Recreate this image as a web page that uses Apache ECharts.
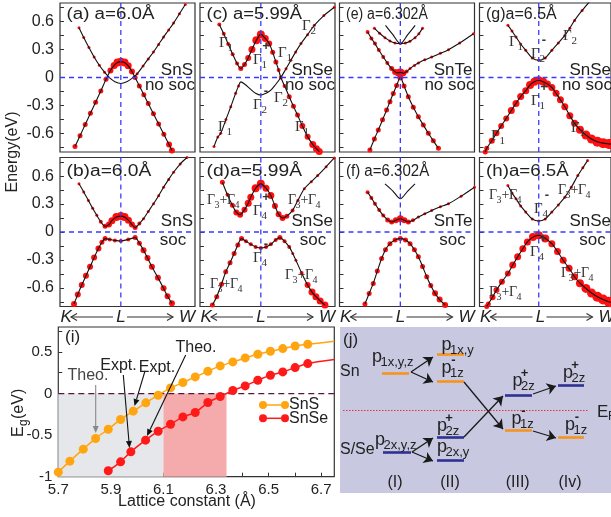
<!DOCTYPE html>
<html><head><meta charset="utf-8">
<script src="https://cdn.jsdelivr.net/npm/echarts@6/dist/echarts.min.js"></script>
<style>html,body{margin:0;padding:0;background:#fff}#c{width:611px;height:517px}</style>
</head><body><div id="c"></div>
<script>
// ================= DATA =================
// band panels: k axis (K=-0.82, L=0, W=1), energy axis (eV)
const kRange = [-0.82, 1.0];
const eRange = [-0.8, 0.8];
const eTicks = [-0.75,-0.6,-0.45,-0.3,-0.15,0,0.15,0.3,0.45,0.6,0.75];
const eTickLabels = [-0.6,-0.3,0,0.3,0.6];
const kLabels = ['K','L','W'];
const panelTitles = ['(a) a=6.0Å','(b)a=6.0Å','(c) a=5.99Å','(d)a=5.99Å','(e) a=6.302Å','(f) a=6.302Å','(g)a=6.5Å','(h)a=6.5Å'];
const panelMaterials = ['SnS','SnS','SnSe','SnSe','SnTe','SnTe','SnSe','SnSe'];
const panelSoc = ['no soc','soc','no soc','soc','no soc','soc','no soc','soc'];

// each point: [k, E, red-dot size]
const aBand1 = [[-0.618,-0.742,5],[-0.55,-0.625,5],[-0.48,-0.505,5],[-0.41,-0.385,5],[-0.34,-0.265,5],[-0.27,-0.145,5],[-0.2,-0.02,5],[-0.14,0.075,6],[-0.09,0.13,7],[-0.045,0.16,8],[0,0.17,8],[0.05,0.16,8],[0.1,0.125,7],[0.15,0.065,6],[0.193,0.0,5],[0.25,-0.09,5],[0.31,-0.185,5],[0.37,-0.28,5],[0.44,-0.39,5],[0.51,-0.5,5],[0.58,-0.61,5],[0.65,-0.72,6],[0.689,-0.785,6]];
const aBand2 = [[-0.564,0.535,3],[-0.5,0.43,3],[-0.43,0.322,3],[-0.36,0.22,3],[-0.29,0.131,3],[-0.22,0.057,3],[-0.15,-0.005,0],[-0.08,-0.045,0],[0,-0.064,0],[0.08,-0.045,0],[0.15,-0.01,0],[0.22,0.04,3],[0.3,0.124,3],[0.37,0.2,3],[0.44,0.274,3],[0.51,0.355,3],[0.576,0.434,3],[0.645,0.51,3],[0.711,0.584,3],[0.79,0.684,3],[0.869,0.784,3]];
const bBand1 = [[-0.564,0.518,3],[-0.5,0.43,3],[-0.437,0.339,3],[-0.38,0.255,3],[-0.324,0.179,3],[-0.27,0.11,4],[-0.212,0.061,5],[-0.16,0.08,6],[-0.12,0.122,7],[-0.06,0.16,8],[0,0.171,8],[0.05,0.16,8],[0.103,0.125,7],[0.15,0.08,6],[0.193,0.047,5],[0.25,0.09,4],[0.306,0.143,3],[0.37,0.22,3],[0.441,0.304,3],[0.51,0.39,3],[0.576,0.48,3],[0.645,0.565,3],[0.711,0.642,3],[0.8,0.73,3],[0.892,0.8,3]];
const bBand2 = [[-0.631,-0.773,6],[-0.58,-0.67,6],[-0.527,-0.57,6],[-0.47,-0.47,6],[-0.415,-0.374,6],[-0.36,-0.275,6],[-0.302,-0.178,6],[-0.255,-0.11,5],[-0.212,-0.071,5],[-0.15,-0.08,4],[-0.08,-0.09,4],[0,-0.096,4],[0.1,-0.08,4],[0.193,-0.06,5],[0.25,-0.12,5],[0.306,-0.196,6],[0.36,-0.28,6],[0.419,-0.374,6],[0.5,-0.49,6],[0.576,-0.605,6],[0.63,-0.69,6],[0.689,-0.766,6]];
const cBand1 = [[-0.56,0.57,4],[-0.5,0.47,4],[-0.44,0.36,4],[-0.38,0.25,4],[-0.32,0.15,4],[-0.27,0.096,5],[-0.22,0.14,5],[-0.17,0.21,6],[-0.12,0.3,7],[-0.06,0.4,8],[0,0.463,8],[0.06,0.42,7],[0.113,0.364,6],[0.16,0.27,5],[0.203,0.167,5],[0.24,0.08,4],[0.27,0,4],[0.32,-0.09,4],[0.383,-0.207,5],[0.44,-0.31,5],[0.495,-0.403,5],[0.56,-0.52,6],[0.631,-0.635,6],[0.7,-0.72,7],[0.75,-0.765,7],[0.788,-0.795,7]];
const cBand2 = [[-0.631,-0.742,3],[-0.58,-0.64,3],[-0.541,-0.599,3],[-0.47,-0.45,3],[-0.405,-0.314,3],[-0.34,-0.17,3],[-0.3,-0.09,3],[-0.27,-0.047,0],[-0.22,-0.07,0],[-0.135,-0.128,0],[-0.07,-0.17,0],[0,-0.189,0],[0.07,-0.17,0],[0.135,-0.136,0],[0.2,-0.075,0],[0.27,0,0],[0.34,0.095,3],[0.405,0.185,3],[0.47,0.275,3],[0.541,0.364,3],[0.63,0.46,3],[0.721,0.56,3],[0.85,0.665,3],[0.991,0.755,3]];
const dBand1 = [[-0.518,0.535,5],[-0.45,0.4,4],[-0.383,0.286,5],[-0.33,0.21,6],[-0.279,0.186,6],[-0.22,0.24,6],[-0.17,0.31,7],[-0.135,0.374,7],[-0.07,0.47,8],[0,0.517,8],[0.07,0.47,7],[0.135,0.392,7],[0.19,0.28,6],[0.24,0.19,6],[0.293,0.15,6],[0.35,0.17,5],[0.428,0.232,4],[0.5,0.34,3],[0.586,0.464,3],[0.68,0.54,3],[0.766,0.606,3],[0.88,0.7,3],[0.99,0.795,3]];
const dBand2 = [[-0.653,-0.784,5],[-0.595,-0.695,5],[-0.53,-0.56,5],[-0.473,-0.428,5],[-0.415,-0.33,5],[-0.36,-0.231,5],[-0.31,-0.14,5],[-0.26,-0.071,5],[-0.2,-0.1,4],[-0.135,-0.132,4],[-0.07,-0.16,4],[0,-0.171,4],[0.07,-0.16,4],[0.135,-0.132,4],[0.2,-0.085,4],[0.257,-0.06,5],[0.32,-0.1,4],[0.383,-0.16,4],[0.43,-0.23,3],[0.473,-0.303,3],[0.55,-0.44,4],[0.631,-0.57,6],[0.69,-0.645,7],[0.743,-0.695,7],[0.8,-0.74,7],[0.865,-0.784,7]];
const eBand1 = [[-0.441,0.488,4],[-0.39,0.42,4],[-0.342,0.364,4],[-0.29,0.295,4],[-0.23,0.22,4],[-0.175,0.155,4],[-0.117,0.096,5],[-0.07,0.06,6],[-0.03,0.05,7],[0,0.055,8],[0.04,0.045,6],[0.085,0.065,4],[0.131,0.096,3],[0.19,0.13,3],[0.243,0.156,3],[0.33,0.19,3],[0.423,0.22,3],[0.54,0.26,3],[0.649,0.299,3],[0.8,0.37,3],[0.986,0.47,3]];
const eBand2 = [[-0.41,-0.778,5],[-0.35,-0.66,5],[-0.297,-0.564,5],[-0.24,-0.455,5],[-0.185,-0.35,5],[-0.14,-0.26,5],[-0.095,-0.171,5],[-0.05,-0.085,5],[0,0,6],[0.05,-0.09,5],[0.108,-0.207,5],[0.175,-0.32,5],[0.243,-0.421,5],[0.31,-0.51,5],[0.378,-0.599,5],[0.445,-0.68,5],[0.514,-0.76,5]];
const eBand3 = [[-0.35,0.53,3],[-0.28,0.475,3],[-0.207,0.428,3],[-0.14,0.392,3],[-0.072,0.37,3],[0,0.364,3],[0.067,0.37,3],[0.13,0.39,3],[0.198,0.428,3],[0.25,0.47,3],[0.3,0.53,3]];
const eBand4 = [[-0.2,0.56,0],[-0.1,0.46,0],[0,0.364,0],[0.1,0.46,0],[0.2,0.56,0]];
const fBand1 = [[-0.441,0.428,4],[-0.39,0.365,4],[-0.342,0.303,4],[-0.285,0.235,4],[-0.23,0.178,4],[-0.17,0.13,5],[-0.117,0.107,5],[-0.06,0.125,6],[0,0.143,7],[0.055,0.125,6],[0.108,0.107,5],[0.17,0.125,4],[0.243,0.16,3],[0.33,0.196,3],[0.423,0.232,3],[0.54,0.27,3],[0.649,0.303,3],[0.82,0.385,3],[1.0,0.481,3]];
const fBand2 = [[-0.207,0.517,0],[-0.1,0.44,0],[0,0.357,0],[0.1,0.44,0],[0.198,0.517,0]];
const fBand3 = [[-0.477,-0.773,5],[-0.42,-0.66,5],[-0.365,-0.552,5],[-0.31,-0.42,5],[-0.252,-0.285,5],[-0.2,-0.19,5],[-0.14,-0.125,5],[-0.07,-0.085,5],[0,-0.071,5],[0.07,-0.085,5],[0.131,-0.125,5],[0.19,-0.19,5],[0.243,-0.267,5],[0.3,-0.37,5],[0.356,-0.481,5],[0.41,-0.575,5],[0.468,-0.659,6],[0.53,-0.725,6],[0.604,-0.784,6]];
const gBand1 = [[-0.427,0.56,3],[-0.37,0.5,3],[-0.315,0.434,3],[-0.25,0.36,3],[-0.18,0.292,3],[-0.09,0.21,3],[0,0.185,3],[0.09,0.21,3],[0.181,0.292,3],[0.27,0.37,3],[0.361,0.452,3],[0.43,0.53,3],[0.496,0.613,3],[0.6,0.72,3],[0.699,0.81,3]];
const gBand2 = [[-0.74,-0.8,5],[-0.72,-0.76,5],[-0.65,-0.68,6],[-0.585,-0.599,6],[-0.52,-0.52,6],[-0.45,-0.439,6],[-0.38,-0.355,7],[-0.315,-0.278,7],[-0.25,-0.205,7],[-0.18,-0.143,7],[-0.12,-0.08,8],[-0.06,-0.045,8],[0,-0.029,8],[0.06,-0.045,8],[0.12,-0.07,7],[0.181,-0.107,7],[0.24,-0.17,7],[0.3,-0.24,7],[0.361,-0.314,7],[0.43,-0.41,7],[0.496,-0.492,7],[0.57,-0.56,8],[0.653,-0.617,9],[0.73,-0.66,9],[0.811,-0.689,10],[0.89,-0.705,10],[0.969,-0.713,10],[1.0,-0.715,10]];
const hBand1 = [[-0.427,0.5,3],[-0.37,0.42,3],[-0.315,0.357,3],[-0.25,0.28,3],[-0.18,0.214,3],[-0.09,0.14,3],[0,0.118,3],[0.09,0.14,3],[0.181,0.214,3],[0.27,0.29,3],[0.361,0.374,3],[0.45,0.48,3],[0.541,0.606,3],[0.61,0.69,3],[0.676,0.767,3]];
const hBand2 = [[-0.72,-0.8,5],[-0.698,-0.773,5],[-0.64,-0.7,6],[-0.585,-0.624,6],[-0.51,-0.535,6],[-0.427,-0.445,6],[-0.36,-0.355,7],[-0.292,-0.267,7],[-0.22,-0.18,7],[-0.157,-0.107,7],[-0.08,-0.055,8],[0,-0.035,8],[0.09,-0.07,8],[0.181,-0.125,7],[0.26,-0.21,7],[0.338,-0.303,7],[0.42,-0.39,7],[0.496,-0.481,7],[0.57,-0.55,8],[0.653,-0.606,9],[0.73,-0.655,9],[0.811,-0.695,10],[0.89,-0.725,10],[0.969,-0.749,10],[1.0,-0.755,10]];

// panel (i): band gap vs lattice constant
const latticeSnS = [5.70,5.744,5.795,5.842,5.89,5.937,5.985,6.033,6.08,6.127,6.174,6.221,6.269,6.316,6.364,6.411,6.459,6.507,6.554,6.601,6.649];
const gapSnS     = [-0.945,-0.813,-0.669,-0.54,-0.429,-0.312,-0.212,-0.112,-0.02,0.068,0.132,0.2,0.268,0.332,0.38,0.428,0.472,0.508,0.54,0.572,0.592];
const tailSnS    = [6.75, 0.628];
const latticeSnSe = [5.89,5.937,5.976,6.032,6.08,6.127,6.174,6.221,6.269,6.316,6.364,6.411,6.459,6.507,6.554,6.601,6.649];
const gapSnSe     = [-0.929,-0.821,-0.701,-0.561,-0.453,-0.369,-0.281,-0.228,-0.108,-0.036,0.036,0.092,0.16,0.22,0.26,0.312,0.36];
const tailSnSe    = [6.75, 0.408];
const latticeTicks = [5.7,5.8,5.9,6.0,6.1,6.2,6.3,6.4,6.5,6.6,6.7];
const latticeLabels = [5.7,5.9,6.1,6.3,6.5,6.7];
const gapTicks = [-1,-0.75,-0.5,-0.25,0,0.25,0.5,0.75];
const gapLabels = [-1,-0.5,0,0.5];
const grayRegion = [5.7, 6.1];
const pinkRegion = [6.1, 6.34];

// panel (j): schematic levels (diagram units: x offset, energy offset downward)
const levelX1 = [42,43,97,97,97,97,165,165,218,218];
const levelX2 = [69,71,124,124,124,124,192,192,244,244];
const levelY  = [46,125,27,54,110,133,68,103,58,110];
const levelSn = [1,0,1,1,0,0,0,1,0,1];
const arrowFrom = [[71,45],[71,45],[72,125],[72,125],[124,55],[124,110],[193,67],[193,104]];
const arrowTo   = [[93,30],[93,55],[93,111],[93,134],[163,102],[163,69],[216,59],[216,111]];
const fermiY = 83, fermiX = [3,248];

// ================= LAYOUT / STYLE =================
const FONT = '"Liberation Sans", Arial, Helvetica, sans-serif';
const SERIF = '"Liberation Serif", "Times New Roman", serif';
const colLeft = [60, 200, 339.5, 479.5];
const rowTop = [3, 157.5];
const PW = 135, PH = 149;
const titleScale = [1.17,1.2,1.15,1.2,0.88,0.94,1.0,1.17];

const bandPanels = [[aBand1,aBand2],[bBand1,bBand2],[cBand1,cBand2],[dBand1,dBand2],
  [eBand1,eBand2,eBand3,eBand4],[fBand1,fBand2,fBand3],[gBand1,gBand2],[hBand1,hBand2]];

const grids=[], xAxes=[], yAxes=[], series=[];
const fmt = v => (Math.abs(v)<1e-9 ? '0' : String(+v.toFixed(2)));

bandPanels.forEach((bands, i) => {
  const col = Math.floor(i/2), row = i%2;
  grids.push({left:colLeft[col], top:rowTop[row], width:PW, height:PH, show:true, borderColor:'#333', borderWidth:1.2, backgroundColor:'transparent'});
  xAxes.push({gridIndex:i, type:'value', min:kRange[0], max:kRange[1], axisLine:{show:false, onZero:false}, axisTick:{show:false}, axisLabel:{show:false}, splitLine:{show:false}});
  yAxes.push({gridIndex:i, type:'value', min:eRange[0], max:eRange[1], axisLine:{show:false, onZero:false},
    axisTick:{show:true, inside:true, length:4, customValues:eTicks, lineStyle:{color:'#333', width:1}},
    axisLabel:{show:col===0, customValues:eTickLabels, formatter:fmt, fontSize:16, color:'#222', fontFamily:FONT, margin:6},
    splitLine:{show:false}});
  series.push({type:'scatter', xAxisIndex:i, yAxisIndex:i, silent:true, animation:false, z:2,
    data: bands.flat().filter(d=>d[2]>0), symbolSize: v=>v[2], itemStyle:{color:'#ff0f0f', opacity:1}});
  bands.forEach(b => {
    series.push({type:'line', xAxisIndex:i, yAxisIndex:i, silent:true, animation:false, z:3,
      data:b.map(d=>[d[0],d[1]]), smooth:0.3, symbol:'none', showSymbol:false,
      lineStyle:{color:'#111', width:1.1}});
  });
  // dashed reference lines at E=0 and at L
  series.push({type:'line', xAxisIndex:i, yAxisIndex:i, silent:true, animation:false, z:5, symbol:'none',
    data:[[kRange[0],0],[kRange[1],0]], lineStyle:{color:'#3a3aff', type:[5,4], width:1.3}});
  series.push({type:'line', xAxisIndex:i, yAxisIndex:i, silent:true, animation:false, z:5, symbol:'none',
    data:[[0,eRange[0]],[0,eRange[1]]], lineStyle:{color:'#3a3aff', type:[5,4], width:1.3}});
});

// panel (i)
grids.push({left:58.3, top:327, width:276, height:149.7, show:true, borderColor:'#333', borderWidth:1.2});
xAxes.push({gridIndex:8, type:'value', min:5.7, max:6.75, axisLine:{show:false, onZero:false},
  axisTick:{inside:true, length:4, customValues:latticeTicks, lineStyle:{color:'#333'}},
  axisLabel:{customValues:latticeLabels, formatter:v=>v.toFixed(1), fontSize:15, color:'#222', fontFamily:FONT, margin:6},
  splitLine:{show:false}});
yAxes.push({gridIndex:8, type:'value', min:-1, max:0.8, axisLine:{show:false, onZero:false},
  axisTick:{inside:true, length:4, customValues:gapTicks, lineStyle:{color:'#333'}},
  axisLabel:{customValues:gapLabels, formatter:fmt, fontSize:15, color:'#222', fontFamily:FONT, margin:6},
  splitLine:{show:false}});
series.push({type:'line', xAxisIndex:8, yAxisIndex:8, silent:true, animation:false, z:1, data:[[5.7,-1]], symbol:'none', lineStyle:{opacity:0},
  markArea:{silent:true, animation:false, data:[
    [{xAxis:grayRegion[0], yAxis:-1, itemStyle:{color:'#e6e7ea'}},{xAxis:grayRegion[1], yAxis:0}],
    [{xAxis:pinkRegion[0], yAxis:-1, itemStyle:{color:'#f5abab'}},{xAxis:pinkRegion[1], yAxis:0}]]}});
series.push({type:'line', xAxisIndex:8, yAxisIndex:8, silent:true, animation:false, z:2, symbol:'none',
  data:[[5.7,0],[6.75,0]], lineStyle:{color:'#5a1440', type:[6,4], width:1.3}});
series.push({type:'line', name:'SnS', xAxisIndex:8, yAxisIndex:8, silent:true, animation:false, z:4, smooth:0.25,
  data: latticeSnS.map((x,i)=>[x,gapSnS[i]]).concat([{value:tailSnS, symbol:'none'}]),
  symbol:'circle', symbolSize:9, itemStyle:{color:'#ffa510', opacity:1}, lineStyle:{color:'#ffa510', width:1.5}});
series.push({type:'line', name:'SnSe', xAxisIndex:8, yAxisIndex:8, silent:true, animation:false, z:4, smooth:0.25,
  data: latticeSnSe.map((x,i)=>[x,gapSnSe[i]]).concat([{value:tailSnSe, symbol:'none'}]),
  symbol:'circle', symbolSize:9, itemStyle:{color:'#ff1a1a', opacity:1}, lineStyle:{color:'#ff1a1a', width:1.5}});

// panel (j)
grids.push({left:340, top:327, width:271, height:166, show:true, backgroundColor:'#c8c8e1', borderWidth:0});
xAxes.push({gridIndex:9, type:'value', min:0, max:271, show:false});
yAxes.push({gridIndex:9, type:'value', min:0, max:166, inverse:true, show:false});
series.push({type:'lines', coordinateSystem:'cartesian2d', xAxisIndex:9, yAxisIndex:9, silent:true, animation:false, z:3,
  symbol:['none','none'],
  data: levelY.map((y,i)=>({coords:[[levelX1[i],y],[levelX2[i],y]], lineStyle:{color: levelSn[i]?'#f7941d':'#2e3192', width:2.6, opacity:1}}))});
series.push({type:'lines', coordinateSystem:'cartesian2d', xAxisIndex:9, yAxisIndex:9, silent:true, animation:false, z:4,
  symbol:['none','arrow'], symbolSize:9,
  lineStyle:{color:'#1a1a1a', width:1.3, opacity:1},
  data: arrowFrom.map((p,i)=>({coords:[p, arrowTo[i]]}))});
series.push({type:'lines', coordinateSystem:'cartesian2d', xAxisIndex:9, yAxisIndex:9, silent:true, animation:false, z:2,
  symbol:['none','none'],
  lineStyle:{color:'#e8323c', width:1.2, type:[1.5,1.5], opacity:1},
  data:[{coords:[[fermiX[0],fermiY],[fermiX[1],fermiY]]}]});

// ================= ANNOTATIONS =================
function T(text, x, y, o) {
  o = o || {};
  const al = o.align || 'left', va = o.va || 'middle';
  const el = {type:'text', x:x, y:y, silent:true, z:100,
    style:{text:text, x:0, y:0, font:o.font || ('17px ' + FONT), fill:o.fill || '#222',
      align:al, verticalAlign:va, textAlign:al, textVerticalAlign:va}};
  if (o.rot) el.rotation = o.rot;
  if (o.sx) el.scaleX = o.sx;
  return el;
}
function arrow(x1,y1,x2,y2,color,open) {
  const dx=x2-x1, dy=y2-y1, L=Math.hypot(dx,dy), ux=dx/L, uy=dy/L, h=open?6:7, w=open?3.5:3;
  const bx=x2-ux*h, by=y2-uy*h;
  const p1=[bx-uy*w, by+ux*w], p2=[bx+uy*w, by-ux*w];
  const els=[{type:'line', silent:true, z:90, shape:{x1:x1,y1:y1,x2:open?x2:bx,y2:open?y2:by}, style:{stroke:color, lineWidth:1.1}}];
  if (open) els.push({type:'polyline', silent:true, z:90, shape:{points:[p1,[x2,y2],p2]}, style:{stroke:color, lineWidth:1.1, fill:null}});
  else els.push({type:'polygon', silent:true, z:90, shape:{points:[[x2,y2],p1,p2]}, style:{fill:color}});
  return els;
}
function gam(x, y, sub, sup) {
  const els = [T('Γ', x, y, {font:'15px ' + SERIF, fill:'#333'}), T(sub, x+8.5, y+5, {font:'11px ' + SERIF, fill:'#333'})];
  if (sup) els.push(T(sup === '-' ? '-' : '+', x+13, y-14, {font:'bold 13px ' + FONT, fill:'#333', align:'center'}));
  return els;
}
function gam34(x, y) {
  return [T('Γ', x, y, {font:'14px ' + SERIF, fill:'#333'}), T('3', x+7.5, y+5, {font:'10px ' + SERIF, fill:'#333'}),
    T('+', x+12.5, y, {font:'14px ' + SERIF, fill:'#333'}),
    T('Γ', x+20, y, {font:'14px ' + SERIF, fill:'#333'}), T('4', x+27.5, y+5, {font:'10px ' + SERIF, fill:'#333'})];
}
const G = [];
const titleY = [15, 172];
const matY = [[70,85],[221,240]];
bandPanels.forEach((b,i) => {
  const col = Math.floor(i/2), row = i%2, L = colLeft[col];
  G.push(T(panelTitles[i], L+6.5, titleY[row], {font:'16px ' + FONT, sx:titleScale[i]}));
  const r = Math.min(L+PW-2, 611);
  G.push(T(panelMaterials[i], r, matY[row][0], {align:'right'}));
  if (panelSoc[i]==='soc') G.push(T('soc', L+113, matY[row][1], {align:'center'}));
  else G.push(T('no soc', Math.min(L+PW, 612), matY[row][1], {align:'right'}));
});
colLeft.forEach(L => {
  const y = 317;
  G.push(T(kLabels[0], L+0.5, y, {font:'italic 17px ' + FONT}));
  G.push(...arrow(L+53, y, L+11, y, '#333', true));
  G.push(T(kLabels[1], L+61, y, {font:'italic 17px ' + FONT, align:'center'}));
  G.push(...arrow(L+67, y, L+113, y, '#333', true));
  G.push(T(kLabels[2], L+119, y, {font:'italic 17px ' + FONT}));
});
G.push(T('Energy(eV)', 13, 152, {font:'16px ' + FONT, align:'center', rot:Math.PI/2}));
G.push(...gam(219,43,'1'), ...gam(253,60,'1','+'), ...gam(278,53,'1'), ...gam(302,26,'2'),
  ...gam(253,105,'2','-'), ...gam(274,98,'2'), ...gam(218,127,'1'), ...gam(295,127,'1'));
G.push(...gam34(207,200), ...gam(253,211,'4','+'), ...gam34(288,200), ...gam(253,258,'4','-'), ...gam34(285,275), ...gam34(210,284));
G.push(...gam(509,42,'1'), ...gam(531,54,'2','-'), ...gam(563,36,'2'), ...gam(531,101,'1','+'), ...gam(491,136,'1'), ...gam(571,128,'1'));
G.push(...gam34(489,195), ...gam(534,209,'4','-'), ...gam34(558,190), ...gam(530,252,'4','+'), ...gam34(561,273), ...gam34(489,292));

G.push(T('(i)', 65, 337));
G.push(T('Theo.', 88, 376, {font:'16px ' + FONT, align:'center', fill:'#444'}));
G.push(...arrow(95.7, 385, 95.7, 433, '#888'));
G.push(T('Expt.', 118.5, 366, {font:'16px ' + FONT, align:'center'}));
G.push(...arrow(123.3, 375, 129.5, 448, '#111'));
G.push(T('Expt.', 157, 368, {font:'16px ' + FONT, align:'center'}));
G.push(...arrow(145, 371, 134.5, 406, '#111'));
G.push(T('Theo.', 196, 348, {font:'16px ' + FONT, align:'center'}));
G.push(...arrow(185.7, 355, 147, 436, '#111'));
[['SnS','#ffa510',405],['SnSe','#ff1a1a',418.3]].forEach(([n,c,y]) => {
  G.push({type:'line', silent:true, z:95, shape:{x1:263,y1:y,x2:285,y2:y}, style:{stroke:c, lineWidth:1.5}});
  G.push({type:'circle', silent:true, z:96, shape:{cx:263,cy:y,r:4}, style:{fill:c}});
  G.push({type:'circle', silent:true, z:96, shape:{cx:285,cy:y,r:4}, style:{fill:c}});
  G.push(T(n, 289, y, {font:'16px ' + FONT}));
});
G.push({type:'group', x:19, y:411, rotation:Math.PI/2, silent:true, z:100, children:[
  T('E', -26, 0, {font:'16px ' + FONT}), T('g', -15, 5, {font:'12px ' + FONT}), T('(eV)', -8, 0, {font:'16px ' + FONT})]});
G.push(T('Lattice constant (Å)', 187, 502, {font:'16px ' + FONT, align:'center'}));

const PF = '18px ' + FONT, SF = '13px ' + FONT;
function plab(x, y, sub, sup, subdx) {
  const els = [T('p', x, y, {font:PF})];
  els.push(T(sub, x + (subdx||8.5), y+5, {font:SF}));
  if (sup) els.push(T(sup, x+12, y-8, {font:'bold 13px ' + FONT, align:'center'}));
  return els;
}
G.push(T('(j)', 343, 340));
G.push(T('Sn', 340, 372, {font:'16px ' + FONT}));
G.push(T('S/Se', 340, 450, {font:'16px ' + FONT}));
G.push(...plab(372, 357, '1x,y,z'), ...plab(375, 440, '2x,y,z'));
G.push(...plab(441.5, 345, '1x,y'), ...plab(441.5, 368, '1z', '-'));
G.push(...plab(437, 426, '2z', '+'), ...plab(437, 447, '2x,y'));
G.push(...plab(512.5, 381, '2z', '+'), ...plab(511.5, 419, '1z', '-'));
G.push(...plab(563, 373, '2z', '+'), ...plab(565, 425, '1z', '-'));
G.push(T('E', 597, 412, {font:'17px ' + FONT}), T('F', 608, 417, {font:'12px ' + FONT}));
[['(I)',395],['(II)',450],['(III)',517.7],['(Iv)',570]].forEach(([t,x]) => G.push(T(t, x, 483, {font:'16px ' + FONT, align:'center'})));

const chart = echarts.init(document.getElementById('c'), null, {renderer:'canvas', width:611, height:517});
chart.setOption({
  animation:false,
  backgroundColor:'#ffffff',
  textStyle:{fontFamily:FONT},
  grid:grids, xAxis:xAxes, yAxis:yAxes, series:series,
  graphic:{elements:G}
});
</script></body></html>
